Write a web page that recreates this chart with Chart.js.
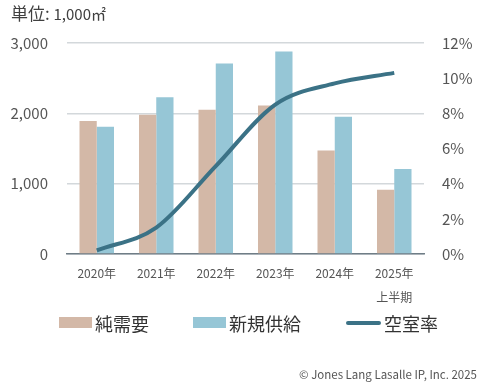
<!DOCTYPE html>
<html>
<head>
<meta charset="utf-8">
<script src="https://cdn.jsdelivr.net/npm/chart.js@4"></script>
<style>
	body { margin: 0; background: #fff; font-family: "Noto Sans CJK JP", sans-serif; }
	#wrap { position: relative; width: 500px; height: 387px; }
	canvas { position: absolute; left: 0; top: 0; }
	.unit { position: absolute; left: 11px; top: 0px; color: #404040; font-size: 17px; }
	.unit small { font-size: 15px; }
	.legend { position: absolute; top: 311px; left: 0; font-size: 18px; color: #333; }
	.legend span { position: absolute; white-space: nowrap; line-height: 24px; }
	.legend i { position: absolute; display: block; }
	.copy { position: absolute; right: 23px; top: 366px; font-size: 11.5px; color: #555; }
</style>
</head>
<body>
<div id="wrap">
	<canvas id="chart" width="500" height="387"></canvas>
	<div class="unit">単位: <small>1,000㎡</small></div>
	<div class="legend" id="legend"></div>
	<div class="copy">© Jones Lang Lasalle IP, Inc. 2025</div>
</div>
<script>
	const years = [['2020年'], ['2021年'], ['2022年'], ['2023年'], ['2024年'], ['2025年', '上半期']];
	const netDemand = [1890, 1980, 2050, 2110, 1470, 915];
	const newSupply = [1810, 2230, 2710, 2880, 1950, 1210];
	const vacancy = [0.2, 1.5, 5.0, 8.5, 9.7, 10.3];

	const colors = ['#d3b8a7', '#96c6d6', '#3b7286'];
	const tickFont = { family: '"Noto Sans CJK JP"', size: 15 };

	const chart = new Chart(document.getElementById('chart'), {
		type: 'bar',
		data: {
			labels: years,
			datasets: [{
				type: 'line',
				label: '空室率',
				data: vacancy,
				yAxisID: 'y2',
				borderColor: colors[2],
				borderWidth: 4,
				pointRadius: 0,
				cubicInterpolationMode: 'monotone',
				order: 0
			}, {
				label: '純需要',
				data: netDemand,
				backgroundColor: colors[0],
				categoryPercentage: 0.58,
				barPercentage: 1,
				order: 1
			}, {
				label: '新規供給',
				data: newSupply,
				backgroundColor: colors[1],
				categoryPercentage: 0.58,
				barPercentage: 1,
				order: 1
			}]
		},
		options: {
			responsive: false,
			animation: false,
			layout: { padding: { top: 43, bottom: 83, left: 0, right: 0 } },
			plugins: { legend: { display: false }, tooltip: { enabled: false } },
			scales: {
				x: {
					grid: { display: false, drawTicks: false },
					border: { color: '#6f7d86', width: 1.5 },
					ticks: { color: '#555', font: { family: '"Noto Sans CJK JP"', size: 12, lineHeight: 2 }, padding: 7, maxRotation: 0 },
					afterFit: s => { s.height = 50; }
				},
				y: {
					min: 0, max: 3000,
					ticks: { stepSize: 1000, color: '#555', font: tickFont, padding: 19,
						callback: v => v.toLocaleString('en-US') },
					grid: { color: '#d3d8db', lineWidth: 1.5, drawTicks: false },
					border: { display: false },
					afterFit: s => { s.width = 67; }
				},
				y2: {
					position: 'right',
					min: 0, max: 12,
					ticks: { stepSize: 2, color: '#555', font: tickFont, padding: 18,
						callback: v => v + '%' },
					grid: { display: false, drawTicks: false },
					border: { display: false },
					afterFit: s => { s.width = 76; }
				}
			}
		}
	});

	// legend built from the datasets
	const legendPos = [
		{ ds: 1, box: 59, text: 95 },
		{ ds: 2, box: 193, text: 229 },
		{ ds: 0, box: 346, text: 384 }
	];
	const legend = document.getElementById('legend');
	legendPos.forEach(p => {
		const d = chart.data.datasets[p.ds];
		const mark = document.createElement('i');
		mark.style.left = p.box + 'px';
		mark.style.width = (d.type === 'line' ? 35 : 33) + 'px';
		mark.style.height = (d.type === 'line' ? 4 : 11) + 'px';
		mark.style.top = (d.type === 'line' ? 10 : 6) + 'px';
		mark.style.background = d.type === 'line' ? d.borderColor : d.backgroundColor;
		if (d.type === 'line') mark.style.borderRadius = '2px';
		legend.appendChild(mark);
		const t = document.createElement('span');
		t.style.left = p.text + 'px';
		t.style.top = '0px';
		t.textContent = d.label;
		legend.appendChild(t);
	});
</script>
</body>
</html>
